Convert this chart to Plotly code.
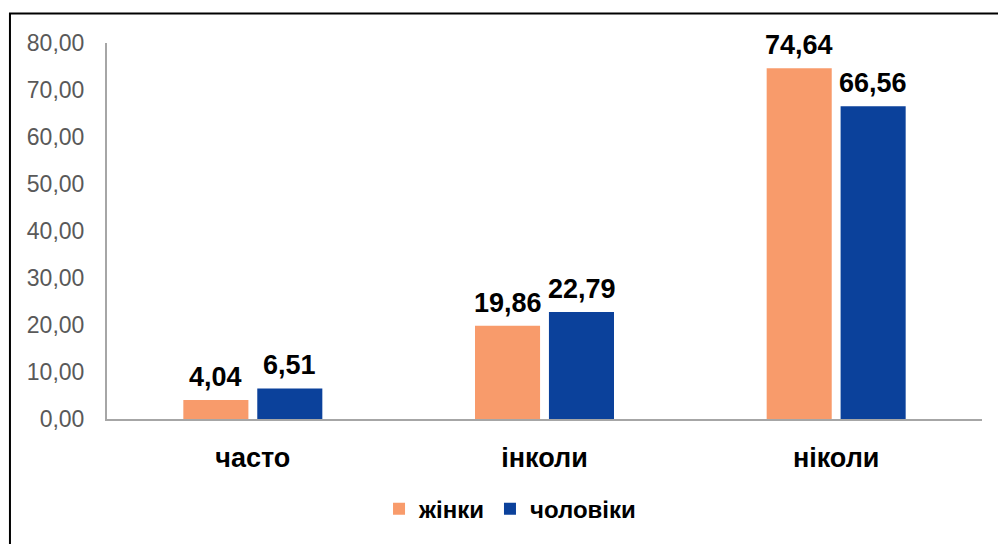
import plotly.graph_objects as go

categories = ["часто", "інколи", "ніколи"]
women = [4.04, 19.86, 74.64]
men = [6.51, 22.79, 66.56]
series_names = ["жінки", "чоловіки"]
tick_vals = [0, 10, 20, 30, 40, 50, 60, 70, 80]

colors = ["#F89B6B", "#0B419B"]
FONT = "Liberation Sans, Arial, sans-serif"

fig = go.Figure()
for name, vals, col in zip(series_names, [women, men], colors):
    fig.add_trace(go.Bar(name=name, x=categories, y=vals, marker=dict(color=col, line=dict(width=0))))

annotations = []
for vals, shift in [(women, -37), (men, 37)]:
    for c, v in zip(categories, vals):
        annotations.append(dict(x=c, y=v, xref="x", yref="y", xshift=shift, yshift=6,
                                text=f"{v:.2f}".replace(".", ","), showarrow=False,
                                yanchor="bottom", font=dict(family=FONT, size=27, color="#000000", weight="bold")))

fig.update_layout(
    width=998, height=544,
    margin=dict(l=107, r=16, t=43, b=118),
    paper_bgcolor="white", plot_bgcolor="white",
    barmode="group", bargap=0.493, bargroupgap=0.12,
    separators=", ",
    font=dict(family=FONT),
    annotations=annotations,
    legend=dict(orientation="h", x=0.4606, xanchor="center", y=-0.240, yanchor="middle",
                font=dict(family=FONT, size=24, color="#000000", weight="bold"),
                itemwidth=30, traceorder="normal"),
    shapes=[dict(type="rect", xref="paper", yref="paper", x0=-0.1109, x1=1.05, y0=-0.4, y1=1.0783,
                 line=dict(color="#000000", width=2), fillcolor="rgba(0,0,0,0)", layer="below")],
)
fig.update_yaxes(range=[0, 80], tickvals=tick_vals, tickformat=".2f", showgrid=False,
                 showline=True, linecolor="#A6A6A6", linewidth=2, ticks="", zeroline=False,
                 automargin=False,
                 tickfont=dict(family=FONT, size=23, color="#595959"), ticklabelstandoff=16)
fig.update_xaxes(showline=True, linecolor="#A6A6A6", linewidth=2, ticks="", showgrid=False,
                 automargin=False,
                 tickfont=dict(family=FONT, size=27, color="#000000", weight="bold"), ticklabelstandoff=14)

fig.write_html(
    "out.html",
    config={"displayModeBar": False},
    post_script=(
        "document.documentElement.style.margin='0';document.documentElement.style.padding='0';"
        "document.documentElement.style.overflow='hidden';document.documentElement.style.height='544px';"
        "document.body.style.margin='0';document.body.style.padding='0';"
        "document.body.style.overflow='hidden';document.body.style.height='544px';"
    ),
)
